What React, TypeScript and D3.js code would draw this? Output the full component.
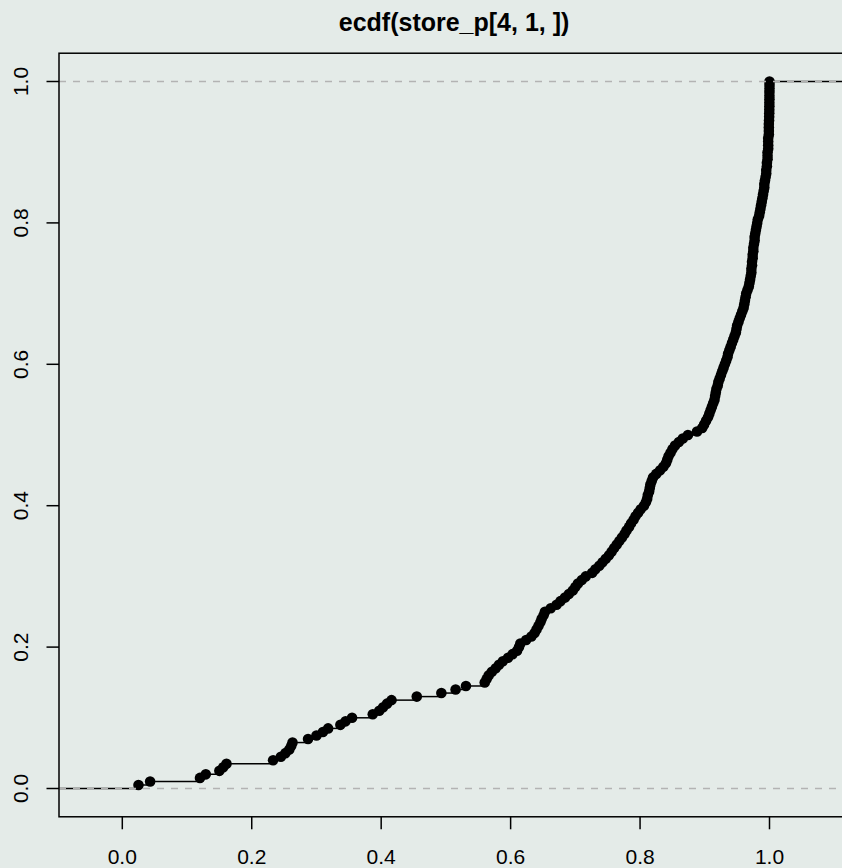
import React from "react";
import * as d3 from "d3";

const title = "ecdf(store_p[4, 1, ])";
const xTicks = [0, 0.2, 0.4, 0.6, 0.8, 1.0];
const yTicks = [0, 0.2, 0.4, 0.6, 0.8, 1.0];
const refLines = [0, 1];

// sorted sample values (n = 200)
const sampleValues = [
  0.025, 0.043, 0.120, 0.129, 0.150, 0.156, 0.161, 0.233, 0.245, 0.252,
  0.258, 0.261, 0.263, 0.287, 0.300, 0.310, 0.318, 0.337, 0.345, 0.355,
  0.387, 0.397, 0.403, 0.409, 0.416, 0.455, 0.493, 0.515, 0.531, 0.560,
  0.563, 0.566, 0.571, 0.577, 0.582, 0.588, 0.596, 0.603, 0.610, 0.613,
  0.615, 0.624, 0.632, 0.637, 0.640, 0.643, 0.646, 0.648, 0.651, 0.653,
  0.662, 0.671, 0.677, 0.684, 0.690, 0.696, 0.700, 0.704, 0.710, 0.716,
  0.726, 0.731, 0.737, 0.742, 0.747, 0.752, 0.756, 0.760, 0.764, 0.768,
  0.772, 0.776, 0.779, 0.783, 0.786, 0.790, 0.793, 0.797, 0.801, 0.806,
  0.809, 0.811, 0.812, 0.814, 0.815, 0.816, 0.818, 0.820, 0.825, 0.831,
  0.836, 0.840, 0.842, 0.844, 0.847, 0.850, 0.854, 0.860, 0.866, 0.874,
  0.888, 0.896, 0.899, 0.902, 0.905, 0.907, 0.909, 0.911, 0.913, 0.915,
  0.916, 0.917, 0.918, 0.920, 0.921, 0.923, 0.925, 0.927, 0.929, 0.931,
  0.933, 0.935, 0.936, 0.938, 0.940, 0.942, 0.944, 0.946, 0.948, 0.949,
  0.950, 0.952, 0.954, 0.956, 0.958, 0.960, 0.961, 0.962, 0.963, 0.964,
  0.966, 0.968, 0.969, 0.970, 0.971, 0.972, 0.972, 0.973, 0.973, 0.974,
  0.974, 0.975, 0.975, 0.976, 0.977, 0.977, 0.978, 0.979, 0.980, 0.981,
  0.982, 0.984, 0.985, 0.986, 0.987, 0.988, 0.989, 0.990, 0.991, 0.992,
  0.992, 0.993, 0.994, 0.995, 0.995, 0.996, 0.996, 0.997, 0.997, 0.997,
  0.998, 0.998, 0.998, 0.998, 0.999, 0.999, 0.999, 0.999, 0.9993, 0.9995,
  0.9996, 0.9997, 0.9998, 0.9998, 0.9999, 0.9999, 0.9999, 1.0, 1.0, 1.0,
];

const W = 842;
const H = 868;
const BG = "#E4EBE8";
const FONT = "'Liberation Sans', Arial, Helvetica, sans-serif";

export default function App() {
  const x = d3.scaleLinear().domain([0, 1]).range([122.3, 769.5]);
  const y = d3.scaleLinear().domain([0, 1]).range([788.5, 81.5]);
  const n = sampleValues.length;
  const box = { x0: x(-0.0978), x1: x(1.123), y0: y(1.04), y1: y(-0.04) };

  const pts = sampleValues.map((v, i) => ({ v, f: (i + 1) / n }));
  const segs: { xa: number; xb: number; f: number }[] = [];
  segs.push({ xa: -0.2, xb: pts[0].v, f: 0 });
  for (let i = 0; i < n; i++) {
    const nextX = i < n - 1 ? pts[i + 1].v : 1.3;
    segs.push({ xa: pts[i].v, xb: nextX, f: pts[i].f });
  }

  return (
    <svg
      width={W}
      height={H}
      style={{ position: "absolute", left: 0, top: 0, display: "block" }}
      fontFamily={FONT}
    >
      <defs>
        <clipPath id="plotclip">
          <rect x={box.x0} y={box.y0} width={box.x1 - box.x0} height={box.y1 - box.y0} />
        </clipPath>
      </defs>
      <rect x={0} y={0} width={W} height={H} fill={BG} />
      <text
        x={(box.x0 + box.x1) / 2}
        y={30.5}
        textAnchor="middle"
        fontWeight="bold"
        fontSize={25}
        fill="#000"
      >
        {title}
      </text>
      <g clipPath="url(#plotclip)">
        {segs.map((s, i) => (
          <line
            key={"s" + i}
            x1={x(s.xa)}
            x2={x(s.xb)}
            y1={y(s.f)}
            y2={y(s.f)}
            stroke="#000"
            strokeWidth={1.5}
          />
        ))}
        {pts.map((p, i) => (
          <circle key={"p" + i} cx={x(p.v)} cy={y(p.f)} r={5.3} fill="#000" />
        ))}
        {refLines.map((r) => (
          <line
            key={"r" + r}
            x1={box.x0}
            x2={box.x1}
            y1={y(r)}
            y2={y(r)}
            stroke="#B3B3B3"
            strokeWidth={1.5}
            strokeDasharray="7,7"
          />
        ))}
      </g>
      <rect
        x={box.x0}
        y={box.y0}
        width={box.x1 - box.x0}
        height={box.y1 - box.y0}
        fill="none"
        stroke="#000"
        strokeWidth={1.5}
      />
      {xTicks.map((t) => (
        <g key={"xt" + t}>
          <line x1={x(t)} x2={x(t)} y1={box.y1} y2={box.y1 + 12.5} stroke="#000" strokeWidth={1.5} />
          <text x={x(t)} y={863.5} textAnchor="middle" fontSize={21} fill="#000">
            {t.toFixed(1)}
          </text>
        </g>
      ))}
      {yTicks.map((t) => (
        <g key={"yt" + t}>
          <line x1={box.x0 - 12.5} x2={box.x0} y1={y(t)} y2={y(t)} stroke="#000" strokeWidth={1.5} />
          <text
            transform={`translate(28.3,${y(t)}) rotate(-90)`}
            textAnchor="middle"
            fontSize={21}
            fill="#000"
          >
            {t.toFixed(1)}
          </text>
        </g>
      ))}
    </svg>
  );
}
